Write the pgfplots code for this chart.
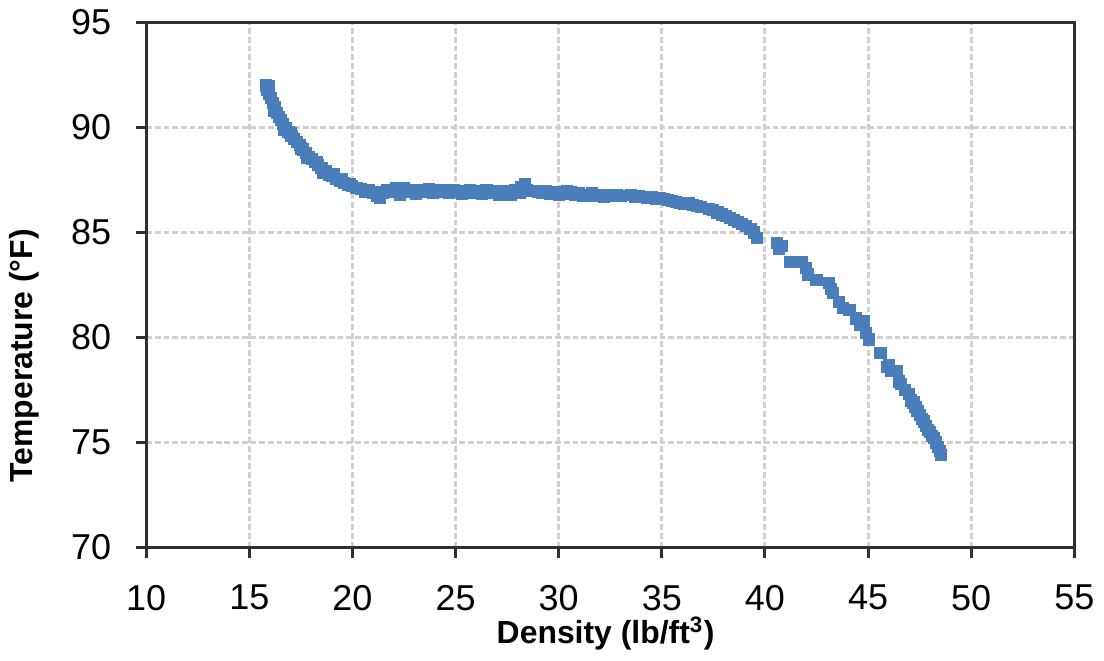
\documentclass[border=0pt]{standalone}
\usepackage{fontspec}
\setmainfont{Liberation Sans}
\usepackage{pgfplots}
\pgfplotsset{compat=1.18}

\definecolor{mblue}{HTML}{4A7EBB}
\definecolor{gridgray}{HTML}{D0D0D0}
\definecolor{axisgray}{HTML}{303030}

\pgfplotstableread{
x y
15.8 92.0
15.85 91.8
15.95 91.95
15.95 91.6
16.05 91.4
16.15 91.15
16.25 90.95
16.2 90.8
16.35 90.7
16.45 90.5
16.55 90.35
16.65 90.15
16.7 89.9
16.8 89.95
16.9 89.8
17.0 89.75
17.05 89.6
17.15 89.45
17.3 89.3
17.45 89.15
17.5 89.0
17.6 88.95
17.75 88.8
17.8 88.55
17.9 88.6
18.05 88.5
18.2 88.35
18.3 88.35
18.35 88.2
18.5 88.05
18.6 87.85
18.7 87.9
18.85 87.75
19.0 87.7
19.1 87.8
19.2 87.55
19.4 87.45
19.5 87.55
19.6 87.35
19.8 87.25
19.9 87.3
20.0 87.2
20.2 87.1
20.4 87.05
20.6 86.95
20.8 87.0
21.0 86.9
21.2 86.75
21.35 86.65
21.5 86.9
21.7 87.0
21.9 86.95
22.1 87.1
22.3 86.8
22.5 87.1
22.7 86.95
22.9 87.0
23.1 86.85
23.3 87.0
23.5 86.95
23.7 87.05
23.9 86.9
24.1 87.0
24.3 86.95
24.5 87.0
24.7 86.9
24.9 87.0
25.1 86.95
25.3 86.85
25.5 86.95
25.7 87.0
25.9 86.9
26.1 86.95
26.3 86.85
26.5 87.0
26.7 86.9
26.9 86.95
27.1 86.8
27.3 86.85
27.5 86.95
27.7 86.8
27.9 87.0
28.1 86.9
28.2 87.15
28.35 87.3
28.45 87.0
29.0 86.95
29.2 86.9
29.4 86.95
29.6 86.85
29.8 86.9
30.0 86.8
30.2 86.85
30.4 86.95
30.6 86.9
30.8 86.8
31.0 86.85
31.2 86.75
31.4 86.8
31.6 86.85
31.8 86.75
32.0 86.8
32.2 86.7
32.4 86.8
32.6 86.75
32.8 86.8
33.0 86.75
33.5 86.8
33.7 86.7
33.9 86.75
34.1 86.7
34.3 86.65
34.5 86.7
34.7 86.6
34.9 86.65
35.1 86.6
35.3 86.55
35.5 86.5
35.7 86.45
35.9 86.4
36.1 86.35
36.3 86.4
36.5 86.3
36.7 86.25
36.9 86.2
37.3 86.1
37.5 86.05
37.7 85.95
37.9 85.85
38.1 85.8
38.3 85.7
38.5 85.6
38.7 85.5
38.9 85.4
39.1 85.3
39.3 85.15
39.45 85.0
39.6 84.75
40.6 84.5
40.7 84.2
40.8 84.35
41.2 83.6
41.8 83.6
42.0 83.3
42.1 83.0
42.5 82.75
43.1 82.6
43.2 82.3
43.3 82.1
43.6 81.7
43.8 81.4
44.1 81.3
44.4 80.9
44.6 80.6
44.8 80.8
44.9 80.2
45.05 79.9
45.6 79.25
45.9 78.6
46.0 78.7
46.1 78.4
46.4 78.4
46.5 77.9
46.6 77.8
46.8 77.5
47.0 77.3
47.1 77.0
47.2 76.9
47.3 76.7
47.4 76.5
47.5 76.3
47.6 76.1
47.7 76.0
47.8 75.8
47.9 75.6
48.0 75.5
48.1 75.3
48.2 75.2
48.3 75.0
48.4 74.8
48.5 74.6
48.55 74.4
}\datatable

\begin{document}
\begin{tikzpicture}
\begin{axis}[
    scale only axis,
    width=320pt, height=181pt,
    xmin=10, xmax=55, ymin=70, ymax=95,
    xtick distance=5, ytick distance=5,
    xtick pos=bottom, ytick pos=left,
    tick align=outside,
    major tick length=3.5pt,
    axis line style={draw=axisgray, line width=1pt},
    tick style={draw=axisgray, line width=1pt},
    grid=major,
    major grid style={draw=gridgray, line width=1pt, dash pattern=on 2pt off 1pt},
    /pgf/number format/assume math mode=true,
    ticklabel style={font=\fontsize{12.4}{14}\selectfont},
    xticklabel style={yshift=-6pt},
    yticklabel style={xshift=-5pt},
    xlabel={Density (lb/ft\textsuperscript{3})},
    ylabel={Temperature (°F)},
    label style={font=\fontsize{11}{13}\selectfont\bfseries},
    xlabel style={at={(axis description cs:0.495,-0.164)}, anchor=center},
    ylabel style={at={(axis description cs:-0.131,0.365)}, anchor=center},
]
\addplot[only marks, mark=square*, mark size=1.9pt,
         mark options={draw=mblue, fill=mblue}] table {\datatable};
\end{axis}
\end{tikzpicture}
\end{document}
